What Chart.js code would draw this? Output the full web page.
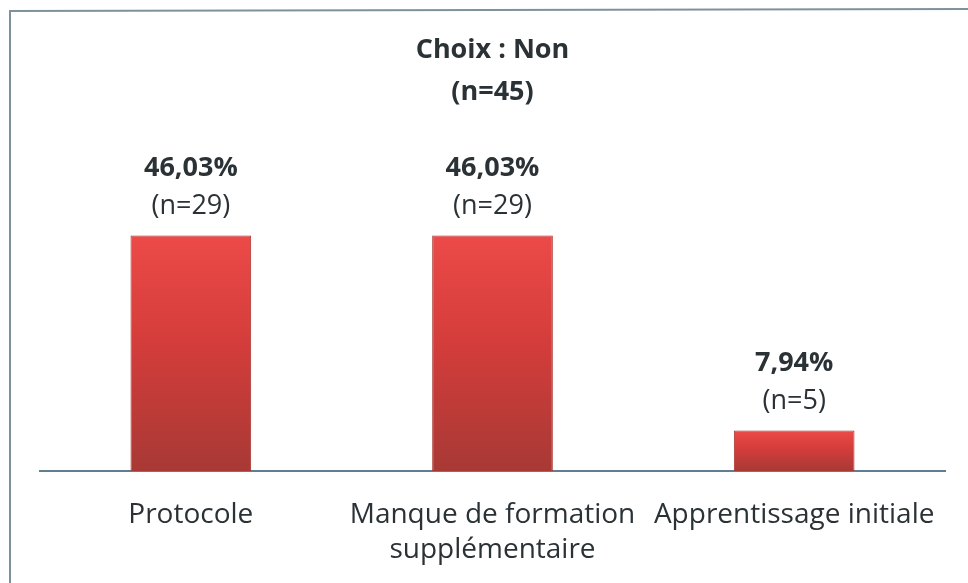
<!DOCTYPE html>
<html>
<head>
<meta charset="utf-8">
<script src="https://cdn.jsdelivr.net/npm/chart.js@4"></script>
<style>
html,body{margin:0;padding:0;background:#fff;}
#wrap{position:relative;width:968px;height:583px;}
</style>
</head>
<body>
<div id="wrap"><canvas id="c" width="968" height="583"></canvas></div>
<script>
const categories = [["Protocole"], ["Manque de formation", "supplémentaire"], ["Apprentissage initiale"]];
const percentValues = [46.03, 46.03, 7.94];
const countValues = [29, 29, 5];
const percentLabels = ["46,03%", "46,03%", "7,94%"];
const countLabels = ["(n=29)", "(n=29)", "(n=5)"];
const titleLines = ["Choix : Non", "(n=45)"];

const FONT = "'Open Sans', 'Noto Sans', sans-serif";
const TEXT = "#2b3236";

function barFill(ctx) {
  const chart = ctx.chart;
  const area = chart.chartArea;
  if (!area || ctx.type !== 'data') return '#d63c3c';
  const y = chart.scales.y;
  const top = y.getPixelForValue(ctx.raw);
  const bottom = y.getPixelForValue(0);
  const g = chart.ctx.createLinearGradient(0, top, 0, bottom);
  g.addColorStop(0, '#ec4a48');
  g.addColorStop(0.45, '#d43d3b');
  g.addColorStop(1, '#a83935');
  return g;
}

const framePlugin = {
  id: 'frame',
  beforeDraw(chart) {
    const c = chart.ctx;
    c.save();
    c.fillStyle = '#ffffff';
    c.fillRect(0, 0, chart.width, chart.height);
    c.strokeStyle = '#7e929c';
    c.lineWidth = 2;
    c.beginPath();
    c.moveTo(10, chart.height);
    c.lineTo(10, 11);
    c.lineTo(chart.width, 9);
    c.stroke();
    c.restore();
  }
};

const labelPlugin = {
  id: 'barLabels',
  afterDatasetsDraw(chart) {
    const c = chart.ctx;
    const meta = chart.getDatasetMeta(0);
    c.save();
    c.fillStyle = TEXT;
    c.textAlign = 'center';
    c.textBaseline = 'middle';
    meta.data.forEach((bar, i) => {
      c.font = "bold 27px " + FONT;
      c.fillText(percentLabels[i], bar.x, bar.y - 67);
      c.font = "27px " + FONT;
      c.fillText(countLabels[i], bar.x, bar.y - 29);
    });
    c.restore();
  }
};

new Chart(document.getElementById('c'), {
  type: 'bar',
  data: {
    labels: categories,
    datasets: [{
      data: percentValues,
      backgroundColor: barFill,
      borderColor: '#a8302c',
      borderWidth: 1,
      barPercentage: 0.8,
      categoryPercentage: 0.5
    }]
  },
  options: {
    responsive: false,
    animation: false,
    layout: { padding: { left: 40, right: 23, top: 0, bottom: 15 } },
    plugins: {
      legend: { display: false },
      tooltip: { enabled: false },
      title: {
        display: true,
        text: titleLines,
        color: TEXT,
        font: { family: FONT, size: 27, weight: 'bold', lineHeight: 1.556 },
        padding: { top: 29, bottom: 51 }
      }
    },
    scales: {
      x: {
        grid: { display: false, drawTicks: false },
        border: { display: true, color: '#5f7f90', width: 2 },
        ticks: {
          color: TEXT,
          font: { family: FONT, size: 28, lineHeight: 1.25 },
          padding: 27,
          maxRotation: 0,
          autoSkip: false
        },
        afterFit(scale) { scale.height -= scale.options.ticks.padding; }
      },
      y: {
        display: false,
        min: 0,
        max: 60
      }
    }
  },
  plugins: [framePlugin, labelPlugin]
});
</script>
</body>
</html>
